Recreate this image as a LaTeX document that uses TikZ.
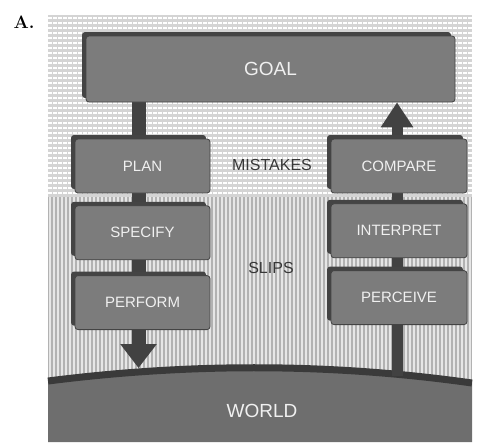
\documentclass[tikz,border=0pt]{standalone}
\usepackage{fontspec}
\newfontfamily\stagefont{Liberation Sans}
\usetikzlibrary{arrows.meta,positioning,shadows}
\definecolor{boxgray}{RGB}{124,124,124}
\definecolor{boxedge}{RGB}{68,68,68}
\definecolor{boxtext}{RGB}{240,240,240}
\definecolor{arrowgray}{RGB}{66,66,66}
\definecolor{worldgray}{RGB}{110,110,110}
\definecolor{worldedge}{RGB}{58,58,58}
\definecolor{dotbase}{RGB}{212,212,212}
\definecolor{stripebase}{RGB}{178,178,178}
\definecolor{stripelight}{RGB}{230,230,230}
\definecolor{labelgray}{RGB}{55,55,55}
\pgfdeclarelayer{backdrop}
\pgfdeclarelayer{links}
\pgfsetlayers{backdrop,links,main}
\tikzset{
  stage/.style={rectangle, rounded corners=3pt, fill=boxgray, draw=boxedge, line width=0.8pt,
    minimum width=135pt, minimum height=54pt, text=boxtext,
    font=\stagefont\fontsize{15}{15}\selectfont,
    drop shadow={shadow xshift=-4pt, shadow yshift=4pt, fill=boxedge, opacity=1}},
  flow/.style={line width=14pt, draw=arrowgray, -{Triangle[width=35pt,length=24pt]}},
  zone/.style={text=labelgray, font=\stagefont\fontsize{16}{16}\selectfont},
}
\begin{document}
\begin{tikzpicture}[x=1pt,y=-1pt]
    \useasboundingbox (0,0) rectangle (478,442);
    % stages
    \node[stage, minimum width=369pt, minimum height=66pt, font=\stagefont\fontsize{19}{19}\selectfont] (goal) at (270.5,69) {GOAL};
    \node[stage] (plan) at (142.5,166) {PLAN};
    \node[stage, below=12pt of plan] (specify) {SPECIFY};
    \node[stage, below=15pt of specify] (perform) {PERFORM};
    \node[stage, minimum width=136pt] (compare) at (399,166) {COMPARE};
    \node[stage, minimum width=136pt, below=10pt of compare] (interpret) {INTERPRET};
    \node[stage, minimum width=136pt, below=12pt of interpret] (perceive) {PERCEIVE};
    \node[zone] (mistakes) at (272,165) {MISTAKES};
    \node[zone] (slips) at (271,268) {SLIPS};
    \node[font=\bfseries\fontsize{18}{18}\selectfont] (panel) at (24,22) {A.};
    % backdrop
    \begin{pgfonlayer}{backdrop}
        \fill[dotbase] (48,15) rectangle (472,197);
        \foreach \y in {18,23,...,194}
            \draw[white, line width=2.4pt, dash pattern=on 3.5pt off 1.5pt] (48,\y) -- (472,\y);
        \fill[stripebase] (48,197) rectangle (472,392);
        \foreach \x in {50,54,...,470}
            \draw[stripelight, line width=2pt] (\x,197) -- (\x,392);
        \fill[worldgray] (48,381) .. controls (190,363) and (330,363) .. (472,383) -- (472,442) -- (48,442) -- cycle;
        \draw[worldedge, line width=7pt] (48,381) .. controls (190,363) and (330,363) .. (472,383);
    \end{pgfonlayer}
    \node[text=boxtext, font=\stagefont\fontsize{19}{19}\selectfont] (world) at (262,411) {WORLD};
    % links
    \coordinate (landing) at (138.5,368);
    \coordinate (source) at (397,376);
    \begin{pgfonlayer}{links}
        \draw[flow] ([xshift=-4pt]plan.center |- goal.south) -- (landing);
        \draw[flow, line width=11pt, -{Triangle[width=31pt,length=25pt]}] (source) -- ([xshift=-2pt]compare.center |- goal.south);
    \end{pgfonlayer}
\end{tikzpicture}
\end{document}
